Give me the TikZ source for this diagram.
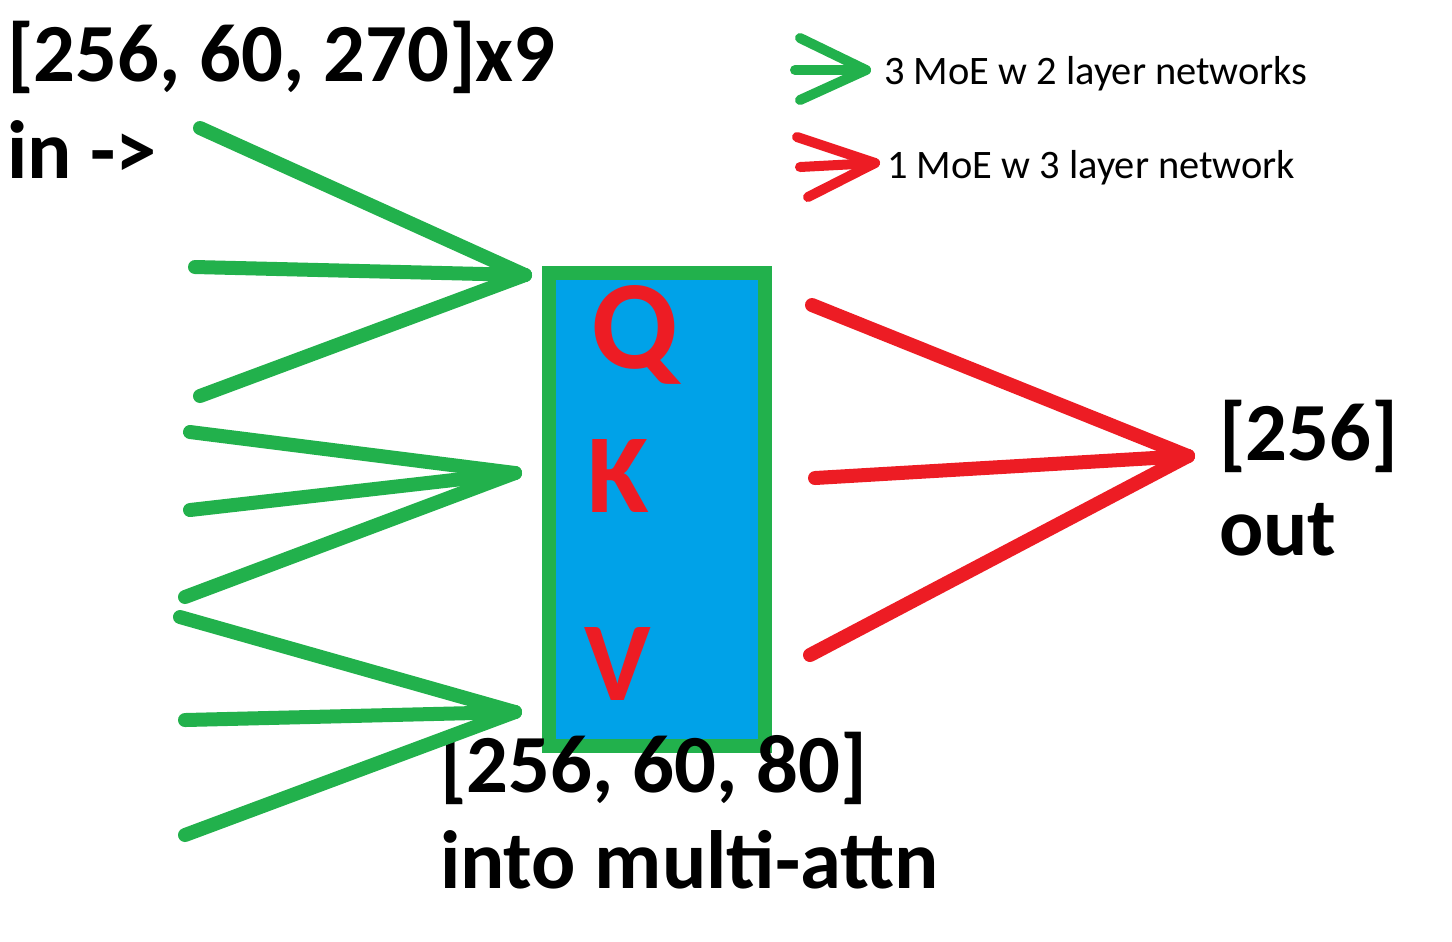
\documentclass[tikz,border=0pt]{standalone}
\usepackage{fontspec}
\setmainfont{Carlito}
\definecolor{paintgreen}{HTML}{22B14C}
\definecolor{paintred}{HTML}{ED1C24}
\definecolor{paintblue}{HTML}{00A2E8}
\begin{document}
\begin{tikzpicture}[x=0.01cm, y=-0.01cm, line width=0.14cm, line cap=round,
        dimtext/.style={inner sep=0pt, anchor=base west, font=\fontsize{23.5}{28}\selectfont\bfseries},
        keytext/.style={inner sep=0pt, anchor=base west, font=\fontsize{11.5}{14}\selectfont},
        qkvletter/.style={inner sep=0pt, anchor=base west, text=paintred, font=\fontsize{32}{36}\selectfont\bfseries},
        qkvbox/.style={draw=paintgreen, fill=paintblue, line width=0.14cm, inner sep=0pt,
            minimum width=2.16cm, minimum height=4.73cm}]
        \useasboundingbox (0,0) rectangle (1452,941);
        % labels
        \draw (0,81) node[dimtext, name=INSHAPE]{[256, 60, 270]x9};
        \draw (0,178) node[dimtext, name=IN]{in ->};
        \draw (1212,460) node[dimtext, name=OUTSHAPE]{[256]};
        \draw (1212,555) node[dimtext, name=OUT]{out};
        % attention block
        \node[qkvbox] (B) at (657,509.5) {};
        \draw (584,368) node[qkvletter, font=\fontsize{36}{40}\selectfont\bfseries, name=Q]{Q};
        \draw (580,512) node[qkvletter, name=K]{K};
        \draw (577,700) node[qkvletter, name=V]{V};
        \draw (433,792) node[dimtext, name=ATTSHAPE]{[256, 60, 80]};
        \draw (433,888) node[dimtext, name=ATT]{into multi-attn};
        % green inputs
        \coordinate (T1) at (525,275);
        \coordinate (T2) at (515,473);
        \coordinate (T3) at (515,712);
        \coordinate (A1) at (200,128);
        \coordinate (A2) at (195,267);
        \coordinate (A3) at (200,396);
        \coordinate (A4) at (190,432);
        \coordinate (A5) at (190,510);
        \coordinate (A6) at (185,597);
        \coordinate (A7) at (180,617);
        \coordinate (A8) at (185,720);
        \coordinate (A9) at (185,835);
        \draw[paintgreen] (A1) -- (T1);
        \draw[paintgreen] (A2) -- (T1);
        \draw[paintgreen] (A3) -- (T1);
        \draw[paintgreen] (A4) -- (T2);
        \draw[paintgreen] (A5) -- (T2);
        \draw[paintgreen] (A6) -- (T2);
        \draw[paintgreen] (A7) -- (T3);
        \draw[paintgreen] (A8) -- (T3);
        \draw[paintgreen] (A9) -- (T3);
        % red output
        \coordinate (R) at (1188,456);
        \coordinate (R1) at (812,305);
        \coordinate (R2) at (815,478);
        \coordinate (R3) at (810,655);
        \draw[paintred] (R1) -- (R);
        \draw[paintred] (R2) -- (R);
        \draw[paintred] (R3) -- (R);
        % key
        \draw (877,84) node[keytext, name=KEYG]{3 MoE w 2 layer networks};
        \draw (880,178) node[keytext, name=KEYR]{1 MoE w 3 layer network};
        \coordinate (G0) at (866,70);
        \coordinate (G1) at (800,38);
        \coordinate (G2) at (795,70);
        \coordinate (G3) at (800,100);
        \draw[paintgreen, line width=0.1cm] (G1) -- (G0);
        \draw[paintgreen, line width=0.1cm] (G2) -- (G0);
        \draw[paintgreen, line width=0.1cm] (G3) -- (G0);
        \coordinate (H0) at (875,163);
        \coordinate (H1) at (797,137);
        \coordinate (H2) at (800,167);
        \coordinate (H3) at (808,197);
        \draw[paintred, line width=0.1cm] (H1) -- (H0);
        \draw[paintred, line width=0.1cm] (H2) -- (H0);
        \draw[paintred, line width=0.1cm] (H3) -- (H0);
    \end{tikzpicture}
\end{document}
